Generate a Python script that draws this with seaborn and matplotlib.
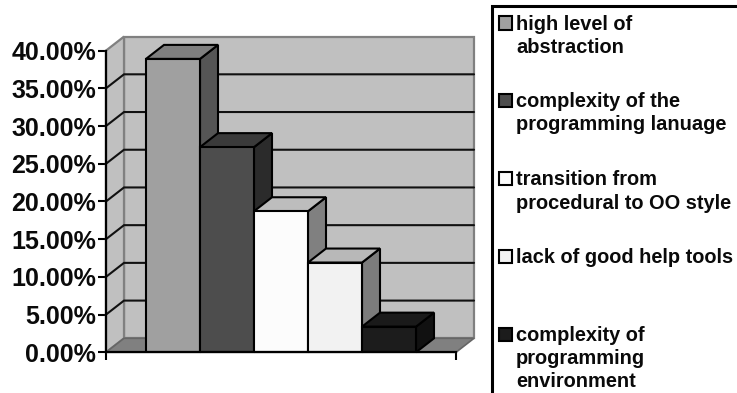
import matplotlib
matplotlib.use("Agg")
import matplotlib.pyplot as plt
from matplotlib.patches import Polygon, Rectangle
import seaborn as sns

# Share of respondents naming each difficulty
categories = [
    "high level of\nabstraction",
    "complexity of the\nprogramming lanuage",
    "transition from\nprocedural to OO style",
    "lack of good help tools",
    "complexity of\nprogramming\nenvironment",
]
values = [38.9, 27.2, 18.7, 11.9, 3.4]
y_ticks = [0, 5, 10, 15, 20, 25, 30, 35, 40]

front_colors = ["#a0a0a0", "#4d4d4d", "#fcfcfc", "#f2f2f2", "#1c1c1c"]
top_colors = ["#7f7f7f", "#3a3a3a", "#bdbdbd", "#b8b8b8", "#1a1a1a"]
side_colors = ["#555555", "#2b2b2b", "#808080", "#7c7c7c", "#111111"]

WALL = "#c0c0c0"
FLOOR = "#808080"
W, H = 737, 393

sns.set_theme(style="white")
plt.rcParams["font.family"] = ["Liberation Sans", "DejaVu Sans"]

fig = plt.figure(figsize=(W / 100, H / 100), dpi=100, facecolor="white")
left, right, base, top = 106, 456, 352.3, 50.6
ax = fig.add_axes([left / W, 1 - base / H, (right - left) / W, (base - top) / H])
ax.patch.set_visible(False)

unit_x = 54.0
x0 = -0.5 - (146 - left) / unit_x
x1 = x0 + (right - left) / unit_x
ax.set_xlim(x0, x1)
ax.set_ylim(0, 40)

# Oblique depth of the pseudo-3D box, in data units
dx = 18 / unit_x
dy = 14 / ((base - top) / 40)

# Back wall, side wall and floor
ax.add_patch(Polygon([(x0 + dx, dy), (x1 + dx, dy), (x1 + dx, 40 + dy), (x0 + dx, 40 + dy)],
                     fc=WALL, ec=FLOOR, lw=1.6, clip_on=False, zorder=1))
ax.add_patch(Polygon([(x0, 0), (x0 + dx, dy), (x0 + dx, 40 + dy), (x0, 40)],
                     fc=WALL, ec=FLOOR, lw=1.6, clip_on=False, zorder=1))
ax.add_patch(Polygon([(x0, 0), (x1, 0), (x1 + dx, dy), (x0 + dx, dy)],
                     fc=FLOOR, ec="#666666", lw=1.2, clip_on=False, zorder=1))

# Gridlines run along the side wall and across the back wall
for t in y_ticks[1:-1]:
    ax.plot([x0, x0 + dx, x1 + dx], [t, t + dy, t + dy], color="#111111", lw=1.5,
            clip_on=False, zorder=1.5, solid_joinstyle="miter")

sns.barplot(x=list(range(len(values))), y=values, hue=list(range(len(values))),
            palette=front_colors, width=1.0, saturation=1, dodge=False, legend=False,
            edgecolor="black", linewidth=1.5, ax=ax, native_scale=True, zorder=5)
ax.set_xlim(x0, x1)
ax.set_ylim(0, 40)
ax.set_xlabel("")
ax.set_ylabel("")

# Top and side faces, painted left to right so each bar overlaps its left neighbour
for i, v in enumerate(values):
    a, b = i - 0.5, i + 0.5
    ax.add_patch(Polygon([(b, 0), (b + dx, dy), (b + dx, v + dy), (b, v)],
                         fc=side_colors[i], ec="black", lw=1.5, clip_on=False,
                         zorder=2 + i * 0.2, joinstyle="miter"))
    ax.add_patch(Polygon([(a, v), (a + dx, v + dy), (b + dx, v + dy), (b, v)],
                         fc=top_colors[i], ec="black", lw=1.5, clip_on=False,
                         zorder=2.1 + i * 0.2, joinstyle="miter"))

for name in ("top", "right"):
    ax.spines[name].set_visible(False)
for name in ("left", "bottom"):
    ax.spines[name].set_color("black")
    ax.spines[name].set_linewidth(1.6)
    ax.spines[name].set_zorder(6)

ax.set_yticks(y_ticks)
ax.set_yticklabels([f"{t:.2f}%" for t in y_ticks], fontsize=18, fontweight="bold", color="#0a0a0a")
ax.tick_params(axis="y", length=6, width=1.5, color="black", left=True, pad=1)
ax.set_xticks([x0, x1])
ax.set_xticklabels(["", ""])
ax.tick_params(axis="x", length=6, width=1.5, color="black", bottom=True)

# Legend panel runs off the right and bottom of the canvas
fig.add_artist(Rectangle((492 / W, -0.05), 300 / W, 1.05 - 6 / H, transform=fig.transFigure,
                         fc="white", ec="black", lw=2.2, zorder=0))
baselines = [[29.5, 53], [106.7, 130], [185, 208.5], [262.7], [340.7, 364, 387]]
for label, color, ys in zip(categories, front_colors, baselines):
    box_y = ys[0] - 6.5
    fig.add_artist(Rectangle((498.5 / W, 1 - (box_y + 6.5) / H), 13 / W, 13 / H,
                             transform=fig.transFigure, fc=color, ec="black", lw=1.5, zorder=3))
    for line, y in zip(label.split("\n"), ys):
        fig.text(516 / W, 1 - y / H, line, fontsize=14.4, fontweight="bold",
                 color="#0a0a0a", va="baseline", ha="left", zorder=4)

fig.savefig("out.png", dpi=100)
